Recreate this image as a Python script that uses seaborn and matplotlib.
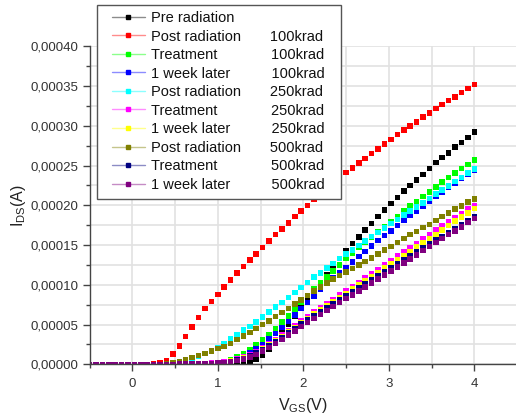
import numpy as np
import pandas as pd
import matplotlib
matplotlib.use('Agg')
import matplotlib.pyplot as plt
import seaborn as sns
from matplotlib.lines import Line2D
from matplotlib.patches import Rectangle
from matplotlib.ticker import MultipleLocator, FuncFormatter

# Estilo
sns.set_style("whitegrid")
plt.rcParams['font.family'] = ['Liberation Sans', 'DejaVu Sans']
plt.rcParams['mathtext.default'] = 'regular'

# Dados (VGS em V, IDS em uA)
vgs = [-0.5, -0.425, -0.35, -0.275, -0.2, -0.125, -0.05, 0.025, 0.1, 0.175,
       0.25, 0.325, 0.4, 0.475, 0.55, 0.625, 0.7, 0.775, 0.85, 0.925,
       1.0, 1.075, 1.15, 1.225, 1.3, 1.375, 1.45, 1.525, 1.6, 1.675,
       1.75, 1.825, 1.9, 1.975, 2.05, 2.125, 2.2, 2.275, 2.35, 2.425,
       2.5, 2.575, 2.65, 2.725, 2.8, 2.875, 2.95, 3.025, 3.1, 3.175,
       3.25, 3.325, 3.4, 3.475, 3.55, 3.625, 3.7, 3.775, 3.85, 3.925, 4.0]

pre = [0, 0, 0, 0, 0, 0, 0, 0, 0, 0, 0, 0, 0, 0, 0, 0, 0, 0, 0, 0, 0, 0,
       0.5, 0.8, 1.2, 2.5, 6, 12, 19, 29, 40, 51, 61, 71, 81, 91, 102, 113,
       123, 133, 143, 152, 160, 169, 177, 186, 194, 202, 210, 218, 225, 232,
       239, 246, 254, 260, 266, 273, 279, 285, 292]
post_100 = [0, 0, 0, 0, 0, 0, 0, 0, 0, 0,
            0.5, 2, 5, 13, 23, 35, 47, 59, 70, 79, 88, 97, 106, 115, 123, 131,
            139, 147, 155, 163, 170, 178, 186, 193, 200, 208, 215, 222, 228,
            235, 241, 247, 253, 259, 265, 271, 277, 283, 289, 295, 300, 305,
            311, 316, 322, 327, 332, 336, 342, 347, 352]
trat_100 = [0, 0, 0, 0, 0, 0, 0, 0, 0, 0, 0, 0, 0, 0, 0, 0, 0, 0,
            0.3, 0.8, 1.5, 3.5, 6, 9.5, 13.5, 18, 24, 30.5, 37.5, 45, 53, 61,
            69.5, 78, 86.5, 94.5, 102.5, 110, 117.5, 125, 133, 140, 147, 153.5,
            160, 166.5, 173, 179.5, 186, 192.5, 199, 205, 211, 217, 223, 229,
            235, 240.5, 246, 251.5, 257]
sem_100 = [0, 0, 0, 0, 0, 0, 0, 0, 0, 0, 0, 0, 0, 0, 0, 0, 0, 0,
           0.3, 0.6, 1, 2.5, 4.5, 7, 10, 14, 19, 25, 31.5, 38.5, 46, 54, 62,
           70, 78, 86, 94, 101.5, 108.5, 115.5, 122, 129, 135.5, 142, 149,
           155.5, 162, 168, 174.5, 181, 187, 193, 199, 205, 211, 217, 222.5,
           228, 233.5, 238.5, 243.5]
post_250 = [0, 0, 0, 0, 0, 0, 0, 0, 0, 0, 0, 0,
            0.5, 1.5, 3, 5.5, 8, 10.5, 13.5, 17, 21, 26, 31.5, 37, 43, 47.5,
            53, 59.5, 66, 72, 78, 84, 90.5, 96.5, 103, 109.5, 115, 121, 127,
            133, 138.5, 144, 149.5, 155, 160.5, 166, 171.5, 177, 182, 187.5,
            192.5, 198, 203, 208.5, 214, 219, 224.5, 230, 235, 240.5, 245.5]
trat_250 = [0, 0, 0, 0, 0, 0, 0, 0, 0, 0, 0, 0, 0, 0,
            0.2, 0.3, 0.4, 0.6, 0.9, 1.3, 2, 3, 4.5, 6.5, 9, 12, 16, 20.5, 25.5,
            31, 36.5, 42.5, 48.5, 54.5, 60, 65.5, 71, 76.5, 81.5, 87, 92.5,
            97.5, 103, 108.5, 113.5, 119, 125, 130.5, 136, 141.5, 147, 152,
            158, 163, 169, 174, 179, 184.5, 189.5, 195, 200]
sem_250 = [0, 0, 0, 0, 0, 0, 0, 0, 0, 0, 0, 0, 0, 0,
           0.1, 0.2, 0.3, 0.5, 0.7, 1, 1.6, 2.5, 3.8, 5.7, 8, 11, 15, 19.3,
           24.2, 29.5, 35, 40.7, 46.5, 52, 57.5, 63, 68.5, 73.5, 79, 84, 89,
           94.5, 99.5, 105, 110, 115.5, 121, 126, 131.5, 137, 142, 147.5, 153,
           158, 163.5, 169, 174.5, 180, 185, 190.5, 196]
post_500 = [0, 0, 0, 0, 0, 0, 0, 0, 0, 0, 0, 0,
            0.8, 2, 3.7, 6, 8.5, 11, 13.8, 16.7, 19.6, 22.6, 26.4, 31, 35.6,
            40.2, 44.8, 49.8, 54.8, 59.9, 65, 70, 76, 81, 86.5, 92, 97, 102,
            107, 111.5, 116, 120.5, 125, 129.5, 134, 139, 144, 148, 153, 158,
            163, 167, 172, 176, 181, 186, 190, 195, 199, 204, 208]
trat_500 = [0, 0, 0, 0, 0, 0, 0, 0, 0, 0, 0, 0, 0, 0,
            0.1, 0.2, 0.3, 0.5, 0.7, 1, 1.5, 2.2, 3.4, 5.2, 7.5, 10.5, 14.2,
            18.5, 23.2, 28.3, 33.7, 39.3, 45, 50.5, 55.8, 61, 66, 71, 76, 81,
            86, 91, 96, 101, 106, 111, 116, 121, 126, 131, 136, 141, 146, 151,
            156, 161, 166, 171, 176, 181, 186]
sem_500 = [0, 0, 0, 0, 0, 0, 0, 0, 0, 0, 0, 0, 0, 0,
           0.2, 0.3, 0.4, 0.6, 0.8, 1, 1.5, 2, 3, 4.5, 6.5, 9, 12.5, 16.5, 21,
           26, 31, 36.5, 42, 47.5, 52.5, 57.5, 62.5, 67.5, 72.5, 77.5, 82.5,
           87.5, 92.5, 97.5, 102.5, 107.5, 112.5, 117.5, 122.5, 127.5, 132.5,
           137.5, 143, 148, 153, 158, 163, 168, 173, 178.5, 183.5]

rotulos = ['Pre radiation',
           'Post radiation       100krad',
           'Treatment             100krad',
           '1 week later          100krad',
           'Post radiation       250krad',
           'Treatment             250krad',
           '1 week later          250krad',
           'Post radiation       500krad',
           'Treatment             500krad',
           '1 week later          500krad']
cores = ['#000000', '#FF0000', '#00FF00', '#0000FF', '#00FFFF',
         '#FF00FF', '#FFFF00', '#808000', '#000080', '#800080']
curvas = [pre, post_100, trat_100, sem_100, post_250,
          trat_250, sem_250, post_500, trat_500, sem_500]

# Montagem do dataframe
partes = []
for rot, ids in zip(rotulos, curvas):
    partes.append(pd.DataFrame({'vgs': vgs, 'ids': np.array(ids) * 1e-6, 'curva': rot}))
df = pd.concat(partes, ignore_index=True)

fig = plt.figure(figsize=(5.16, 4.17), dpi=100)
ax = fig.add_axes([0.1735, 0.1264, 0.8285, 0.7626])

sns.scatterplot(data=df, x='vgs', y='ids', hue='curva', palette=dict(zip(rotulos, cores)),
                marker='s', s=16, linewidth=0, legend=False, ax=ax)

ax.set_xlim(-0.5, 4.5)
ax.set_ylim(0, 0.0004)
ax.xaxis.set_major_locator(MultipleLocator(1))
ax.xaxis.set_minor_locator(MultipleLocator(0.5))
ax.yaxis.set_major_locator(MultipleLocator(0.00005))
ax.yaxis.set_minor_locator(MultipleLocator(0.000025))
ax.yaxis.set_major_formatter(FuncFormatter(lambda v, p: f'{v:.5f}'.replace('.', ',')))
ax.grid(True, which='both', color='#e2e2e2', lw=1.2)

ax.tick_params(which='major', direction='out', length=5, width=1, color='#444',
               labelsize=9.5, labelcolor='#333', left=True, bottom=True)
ax.tick_params(axis='x', which='major', pad=5)
ax.tick_params(axis='y', which='major', pad=3)
ax.tick_params(which='minor', direction='out', length=3, width=1, color='#444',
               left=True, bottom=True)
for lado in ['top', 'right']:
    ax.spines[lado].set_visible(False)
for lado in ['left', 'bottom']:
    ax.spines[lado].set_color('#444')
    ax.spines[lado].set_linewidth(1)

ax.set_xlabel(r'$\mathregular{V_{GS}}$(V)', fontsize=11.5, color='#222', labelpad=4)
ax.set_ylabel(r'$\mathregular{I_{DS}}$(A)', fontsize=11.5, color='#222', labelpad=2)

# Legenda com moldura propria
moldura = Rectangle((97 / 516, 1 - 199 / 417), (341 - 97) / 516, (199 - 5) / 417,
                    transform=fig.transFigure, facecolor='white', edgecolor='#555',
                    lw=1, zorder=3)
fig.add_artist(moldura)

alcas = [Line2D([], [], color=matplotlib.colors.to_rgba(c, 0.45), lw=1, marker='s',
                markersize=2.5, markerfacecolor=c, markeredgecolor=c) for c in cores]
leg = fig.legend(alcas, rotulos, loc='upper left', bbox_to_anchor=(112 / 516, 1 - 11 / 417),
                 frameon=False, borderpad=0, borderaxespad=0, handlelength=2.25,
                 handletextpad=0.4, labelspacing=0.31, fontsize=10.5)
for t in leg.get_texts():
    t.set_color('#111')

plt.savefig('out.png', dpi=100)
plt.close()
